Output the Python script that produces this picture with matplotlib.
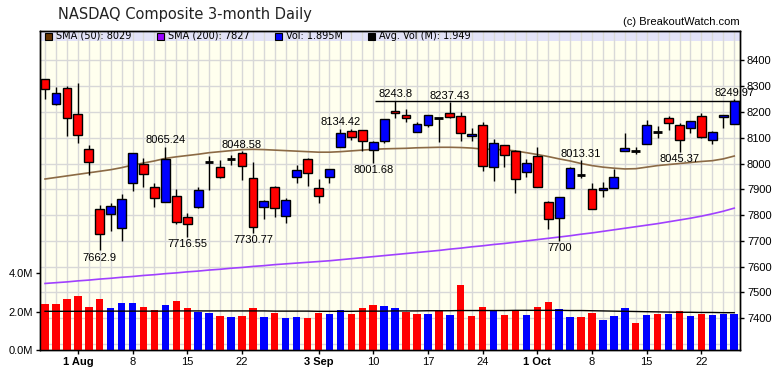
import matplotlib
matplotlib.use("Agg")
import matplotlib.pyplot as plt
from matplotlib.patches import Rectangle
import numpy as np

title = "NASDAQ Composite 3-month Daily"
copyright_text = "(c) BreakoutWatch.com"

# daily candles, 29 Jul .. 25 Oct
opens = [8326, 8232, 8291, 8191, 8055, 7822, 7803, 7749, 7923, 7997,
         7908, 7852, 7875, 7793, 7830, 8006, 7988, 8019, 8039, 7943,
         7830, 7908, 7798, 7946, 8016, 7906, 7949, 8063, 8126, 8130,
         8052, 8089, 8205, 8190, 8121, 8148, 8176, 8194, 8184, 8105,
         8148, 7988, 8070, 8048, 7966, 8029, 7850, 7788, 7905, 7957,
         7900, 7897, 7904, 8047, 8047, 8076, 8123, 8175, 8148, 8136,
         8185, 8090, 8179, 8153]
highs = [8326, 8295, 8300, 8311, 8070, 7839, 7846, 7880, 8040, 8020,
         7923, 8065.24, 7902, 7807, 7908, 8029, 8014, 8032, 8048.58, 8007,
         7858, 7914, 7868, 7993, 8020, 7940, 7979, 8134.42, 8135, 8130,
         8088, 8171, 8243.8, 8210, 8162, 8187, 8176, 8237.43, 8201, 8136,
         8160, 8094, 8070, 8052, 8016, 8065, 7855, 7872, 7988, 8013.31,
         7923, 7930, 7979, 8120, 8065, 8169, 8147, 8184, 8156, 8163,
         8194, 8127, 8187, 8249.97]
lows = [8249, 8227, 8108, 8081, 7954, 7662.9, 7740, 7701, 7895, 7910,
        7833, 7852, 7765, 7716.55, 7828, 7897, 7942, 7994, 7936, 7730.77,
        7785, 7794, 7768, 7926, 7914, 7846, 7926, 8063, 8090, 8050,
        8001.68, 8081, 8175, 8162, 8121, 8140, 8085, 8175, 8087, 8087,
        7970, 7933, 7988, 7887, 7949, 7908, 7745, 7700, 7905, 7942,
        7822, 7871, 7904, 8047, 8036, 8076, 8098, 8130, 8045.37, 8117,
        8100, 8076, 8136, 8153]
closes = [8290, 8272, 8175, 8109, 8006, 7725, 7835, 7862, 8039, 7958,
          7865, 8016, 7772, 7767, 7897, 8006, 7949, 8019, 7992, 7753,
          7855, 7826, 7858, 7975, 7962, 7874, 7979, 8117, 8101, 8087,
          8084, 8171, 8194, 8175, 8152, 8187, 8176, 8181, 8117, 8114,
          7992, 8078, 8032, 7939, 8001, 7908, 7784, 7872, 7981, 7957,
          7822, 7904, 7949, 8059, 8047, 8149, 8123, 8156, 8090, 8163,
          8104, 8122, 8187, 8244]
# volume in millions
volume = [2.38, 2.38, 2.66, 2.82, 2.26, 2.66, 2.19, 2.45, 2.45, 2.26,
          2.09, 2.35, 2.56, 2.19, 2.00, 1.95, 1.79, 1.74, 1.79, 2.19,
          1.74, 1.95, 1.69, 1.74, 1.69, 1.95, 1.90, 2.09, 1.90, 2.19,
          2.35, 2.30, 2.19, 2.00, 1.88, 1.88, 2.04, 1.83, 3.39, 1.78,
          2.25, 2.04, 1.83, 2.04, 1.83, 2.25, 2.51, 2.14, 1.72, 1.72,
          1.93, 1.57, 1.78, 2.19, 1.41, 1.83, 1.88, 1.88, 2.04, 1.78,
          1.88, 1.83, 1.88, 1.895]
sma50 = [7940, 7946, 7952, 7958, 7964, 7970, 7976, 7984, 7994, 8002,
         8010, 8020, 8026, 8031, 8036, 8042, 8046, 8050, 8054, 8055,
         8054, 8052, 8050, 8048, 8046, 8044, 8044, 8046, 8049, 8052,
         8055, 8057, 8058, 8059, 8061, 8062, 8063, 8063, 8062, 8060,
         8056, 8055, 8053, 8049, 8042, 8035, 8027, 8018, 8010, 8000,
         7992, 7986, 7982, 7979, 7980, 7986, 7992, 7996, 8000, 8004,
         8008, 8011, 8018, 8029]
sma200 = [7535, 7538, 7541, 7545, 7548, 7552, 7555, 7559, 7562, 7566,
          7569, 7573, 7576, 7580, 7583, 7587, 7590, 7594, 7597, 7601,
          7604, 7608, 7611, 7614, 7617, 7620, 7623, 7627, 7631, 7635,
          7639, 7643, 7647, 7651, 7655, 7659, 7663, 7668, 7672, 7677,
          7681, 7686, 7690, 7695, 7700, 7705, 7710, 7715, 7720, 7726,
          7731, 7737, 7743, 7749, 7755, 7761, 7767, 7774, 7781, 7788,
          7796, 7805, 7815, 7827]
avg_vol = [2.02, 2.02, 2.02, 2.02, 2.03, 2.03, 2.03, 2.03, 2.03, 2.03,
           2.03, 2.03, 2.04, 2.04, 2.04, 2.04, 2.04, 2.04, 2.04, 2.04,
           2.04, 2.03, 2.03, 2.03, 2.03, 2.02, 2.02, 2.02, 2.02, 2.03,
           2.03, 2.03, 2.04, 2.04, 2.04, 2.05, 2.05, 2.05, 2.06, 2.06,
           2.06, 2.06, 2.06, 2.07, 2.07, 2.07, 2.07, 2.07, 2.06, 2.06,
           2.05, 2.04, 2.03, 2.02, 2.01, 2.00, 1.99, 1.98, 1.97, 1.97,
           1.96, 1.96, 1.95, 1.949]

tick_pos = [3, 8, 13, 18, 25, 30, 35, 40, 45, 50, 55, 60]
tick_labels = ["1 Aug", "8", "15", "22", "3 Sep", "10", "17", "24", "1 Oct", "8", "15", "22"]
month_labels = ["1 Aug", "3 Sep", "1 Oct"]

high_notes = [(11, "8065.24"), (18, "8048.58"), (27, "8134.42"), (32, "8243.8"),
              (37, "8237.43"), (49, "8013.31"), (63, "8249.97")]
low_notes = [(5, "7662.9"), (13, "7716.55"), (19, "7730.77"), (30, "8001.68"),
             (47, "7700"), (58, "8045.37")]
resistance = 8243.8

legend_items = [("SMA (50): 8029", "#663300"), ("SMA (200): 7827", "#9900ff"),
                ("Vol: 1.895M", "#0000ff"), ("Avg. Vol (M): 1.949", "#000000")]

W, H = 780, 376
fig = plt.figure(figsize=(W / 100, H / 100), dpi=100)
fig.patch.set_facecolor("white")

def px(x, y):
    return x / W, 1 - y / H

ax = fig.add_axes([40 / W, 26 / H, 700 / W, 319.3 / H])
ax.set_facecolor("#ffffee")
vax = ax.twinx()

n = len(closes)
x = np.arange(n)
ax.set_xlim(-0.46, 63.53)
ax.set_ylim(7277, 8515)
vax.set_ylim(0, 16.67)

# legend band + grid
ax.add_patch(Rectangle((0, (350 - 41) / 319.3), 1, 1, transform=ax.transAxes,
                       facecolor="#e2e2f8", edgecolor="none", zorder=0.3))
for i in x:
    ax.axvline(i, color="#d8d8d8", lw=1, zorder=0.5)
for p in range(7300, 8500, 100):
    ax.axhline(p, color="#d8d8d8", lw=1, zorder=0.5)

# moving averages
ax.plot(x, sma50, color="#8b6a45", lw=1.2, zorder=2)
ax.plot(x, sma200, color="#a040ff", lw=1.2, zorder=2)

# candles
for i in range(n):
    o, h, l, c = opens[i], highs[i], lows[i], closes[i]
    ax.vlines(i, l, h, color="black", lw=1, zorder=3)
    if o == c:
        ax.hlines(c, i - 0.4, i + 0.4, color="black", lw=2, zorder=4)
    else:
        col = "#0000ff" if c > o else "#ff0000"
        ax.add_patch(Rectangle((i - 0.4, min(o, c)), 0.8, abs(c - o), facecolor=col,
                               edgecolor="black", lw=1, zorder=4))

ax.hlines(resistance, 30.2, 63.53, color="black", lw=1, zorder=3)

for i, t in high_notes:
    ax.annotate(t, (i, highs[i]), xytext=(0, 1), textcoords="offset points", ha="center",
                va="bottom", fontsize=8, family="Liberation Sans", zorder=6, annotation_clip=False)
for i, t in low_notes:
    ax.annotate(t, (i, lows[i]), xytext=(0, -1.5), textcoords="offset points", ha="center",
                va="top", fontsize=8, family="Liberation Sans", zorder=6)

# volume
vcol = ["#ff0000"] + ["#0000ff" if closes[i] > closes[i - 1] else "#ff0000" for i in range(1, n)]
vax.bar(x, volume, width=0.68, color=vcol, zorder=2)
vax.plot(x, avg_vol, color="black", lw=1, zorder=3)

# axes
ax.yaxis.tick_right()
ax.set_yticks(range(7400, 8500, 100))
vax.yaxis.tick_left()
vax.set_yticks([0, 2, 4])
vax.set_yticklabels(["0.0M", "2.0M", "4.0M"])
ax.set_xticks(tick_pos)
ax.set_xticklabels(tick_labels)
for lab in ax.get_xticklabels():
    if lab.get_text() in month_labels:
        lab.set_fontweight("bold")
for a in (ax, vax):
    a.tick_params(labelsize=8, length=3, width=1, pad=2, color="black")
    for s in a.spines.values():
        s.set_color("black")
        s.set_linewidth(1)
    for lab in a.get_xticklabels() + a.get_yticklabels():
        lab.set_family("Liberation Sans")

fig.text(*px(58, 15), title, fontsize=10.5, family="DejaVu Sans", color="#222222",
         ha="left", va="center")
fig.text(*px(740, 22), copyright_text, fontsize=8, family="Liberation Sans",
         ha="right", va="center")

lx = [45, 157, 275, 368]
for (txt, col), x0 in zip(legend_items, lx):
    fig.patches.append(Rectangle(px(x0, 39.5), 7 / W, 7 / H, transform=fig.transFigure,
                                 facecolor=col, edgecolor="black", lw=0.8, zorder=10))
    fig.text(*px(x0 + 11, 36), txt, fontsize=7, family="DejaVu Sans", ha="left",
             va="center", zorder=10)

fig.savefig("out.png", dpi=100)
